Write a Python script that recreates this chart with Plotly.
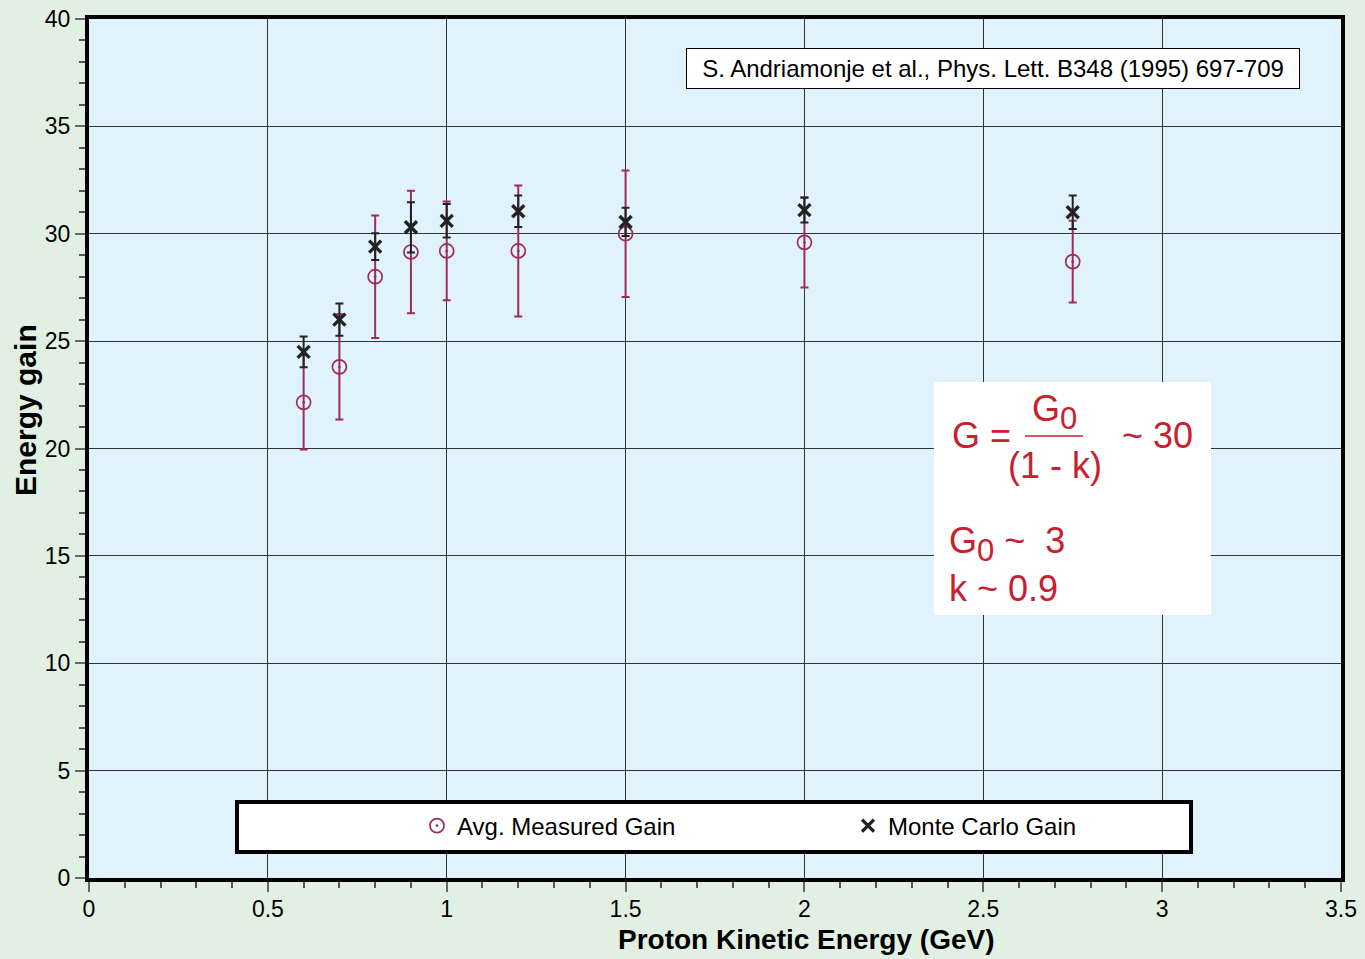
import plotly.graph_objects as go

# Data
energy = [0.6, 0.7, 0.8, 0.9, 1.0, 1.2, 1.5, 2.0, 2.75]
meas_gain = [22.15, 23.8, 28.0, 29.15, 29.2, 29.2, 30.0, 29.6, 28.7]
meas_err = [2.2, 2.45, 2.85, 2.85, 2.3, 3.05, 2.95, 2.1, 1.9]
mc_gain = [24.5, 26.0, 29.4, 30.3, 30.6, 31.05, 30.55, 31.1, 31.0]
mc_err = [0.72, 0.75, 0.62, 1.17, 0.78, 0.73, 0.66, 0.58, 0.78]

x_ticks = [0, 0.5, 1, 1.5, 2, 2.5, 3, 3.5]
x_tick_labels = ["0", "0.5", "1", "1.5", "2", "2.5", "3", "3.5"]
y_ticks = [0, 5, 10, 15, 20, 25, 30, 35, 40]

MAG = "#a02a5e"
RED = "#c8202e"
FONT = "Liberation Sans, Arial, sans-serif"

W, H = 1365, 959
L, R, T, B = 89, 24, 19, 81


def px(xp):
    return (xp - L) / (W - L - R)


def py(yp):
    return (H - B - yp) / (H - B - T)


SUB0 = "<sub><span style='font-size:31px'>0</span></sub>"

fig = go.Figure()
fig.add_trace(go.Scatter(
    x=energy, y=meas_gain, mode="markers", name="Avg. Measured Gain",
    marker=dict(symbol="circle-open-dot", size=14, color=MAG, line=dict(width=1.7, color=MAG)),
    error_y=dict(type="data", array=meas_err, color=MAG, thickness=2, width=4),
))
fig.add_trace(go.Scatter(
    x=energy, y=mc_gain, mode="markers", name="Monte Carlo Gain",
    marker=dict(symbol="x-thin", size=12, color="#222222", line=dict(width=3.4, color="#222222")),
    error_y=dict(type="data", array=mc_err, color="#222222", thickness=2, width=4),
))

shapes = [
    # legend frame
    dict(type="rect", xref="paper", yref="paper", x0=px(237), x1=px(1191), y0=py(852), y1=py(802),
         fillcolor="white", line=dict(color="black", width=4), layer="above"),
    # formula box
    dict(type="rect", xref="paper", yref="paper", x0=px(934), x1=px(1211), y0=py(615), y1=py(382),
         fillcolor="white", line=dict(width=0), layer="above"),
    # fraction bar
    dict(type="line", xref="paper", yref="paper", x0=px(1025), x1=px(1083), y0=py(436), y1=py(436),
         line=dict(color=RED, width=1.5), layer="above"),
]

annotations = [
    dict(text="S. Andriamonje et al., Phys. Lett. B348 (1995) 697-709", xref="paper", yref="paper",
         x=px(993), y=py(68.5), xanchor="center", yanchor="middle", showarrow=False,
         width=600, height=27,
         font=dict(family=FONT, size=24, color="black"), bgcolor="white",
         bordercolor="black", borderwidth=1, borderpad=6),
    dict(text="<b>Proton Kinetic Energy (GeV)</b>", xref="paper", yref="paper",
         x=px(806), y=py(939), xanchor="center", yanchor="middle", showarrow=False,
         font=dict(family=FONT, size=28, color="black")),
    dict(text="<b>Energy gain</b>", xref="paper", yref="paper", textangle=-90,
         x=px(26), y=py(410), xanchor="center", yanchor="middle", showarrow=False,
         font=dict(family=FONT, size=30, color="black")),
    dict(text="G =", xref="paper", yref="paper", x=px(950), y=py(436), xanchor="left", yanchor="middle",
         showarrow=False, font=dict(family=FONT, size=36, color=RED)),
    dict(text="G" + SUB0, xref="paper", yref="paper", x=px(1054), y=py(412), xanchor="center",
         yanchor="middle", showarrow=False, font=dict(family=FONT, size=36, color=RED)),
    dict(text="(1 - k)", xref="paper", yref="paper", x=px(1055), y=py(466), xanchor="center",
         yanchor="middle", showarrow=False, font=dict(family=FONT, size=36, color=RED)),
    dict(text="~ 30", xref="paper", yref="paper", x=px(1120), y=py(436), xanchor="left",
         yanchor="middle", showarrow=False, font=dict(family=FONT, size=36, color=RED)),
    dict(text="G" + SUB0 + " ~  3", xref="paper", yref="paper", x=px(947), y=py(544), xanchor="left",
         yanchor="middle", showarrow=False, font=dict(family=FONT, size=36, color=RED)),
    dict(text="k ~ 0.9", xref="paper", yref="paper", x=px(947), y=py(588), xanchor="left",
         yanchor="middle", showarrow=False, font=dict(family=FONT, size=36, color=RED)),
]

fig.update_layout(
    width=W, height=H,
    margin=dict(l=L, r=R, t=T, b=B, autoexpand=False),
    paper_bgcolor="#e2f0e4",
    plot_bgcolor="#e0f3fc",
    font=dict(family=FONT, size=23, color="black"),
    shapes=shapes,
    annotations=annotations,
    showlegend=True,
    legend=dict(x=px(417), y=py(826), xanchor="left", yanchor="middle", orientation="h",
                bgcolor="rgba(0,0,0,0)", borderwidth=0, entrywidth=386, entrywidthmode="pixels",
                font=dict(family=FONT, size=24, color="black")),
)

fig.update_xaxes(
    range=[0, 3.5], tickvals=x_ticks, ticktext=x_tick_labels, automargin=False,
    showgrid=True, gridcolor="#333333", gridwidth=1, zeroline=False,
    showline=True, linecolor="black", linewidth=4, mirror=True,
    ticks="outside", ticklen=10, tickcolor="#666666", tickwidth=1.5, ticklabelstandoff=-3,
    minor=dict(dtick=0.1, ticks="outside", ticklen=6, tickcolor="#555555", showgrid=False),
    tickfont=dict(size=23),
)
fig.update_yaxes(
    range=[0, 40], tickvals=y_ticks, automargin=False,
    showgrid=True, gridcolor="#333333", gridwidth=1, zeroline=False,
    showline=True, linecolor="black", linewidth=4, mirror=True,
    ticks="outside", ticklen=10, tickcolor="#666666", tickwidth=1.5,
    minor=dict(dtick=1, ticks="outside", ticklen=6, tickcolor="#555555", showgrid=False),
    tickfont=dict(size=23),
)

fig.write_html("out.html", config={"displayModeBar": False},
               post_script="document.body.style.margin='0';")
